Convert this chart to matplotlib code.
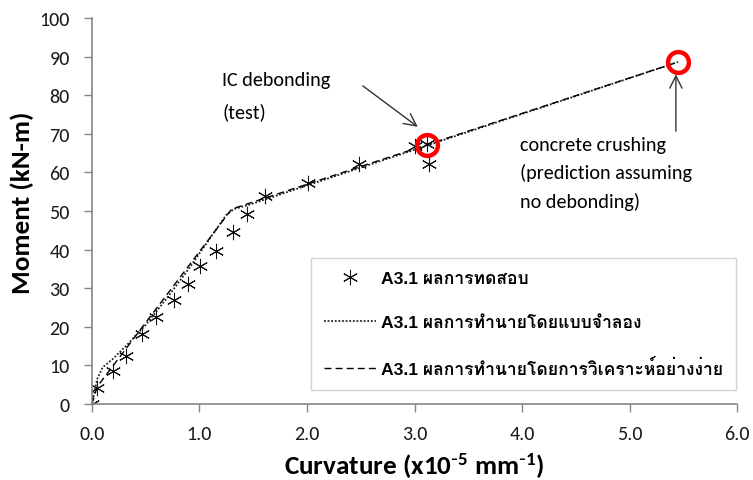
import matplotlib

matplotlib.use("Agg")
import matplotlib.pyplot as plt

plt.rcParams["font.family"] = ["Carlito", "Lato", "DejaVu Sans"]
plt.rcParams["mathtext.default"] = "regular"

# measured moment-curvature, beam A3.1
test_curv = [0.0, 0.05, 0.2, 0.32, 0.47, 0.6, 0.76, 0.89, 1.01, 1.15, 1.31,
             1.44, 1.61, 2.01, 2.48, 3.0, 3.12, 3.13]
test_mom = [0.0, 4.1, 8.5, 12.4, 18.1, 22.5, 26.9, 31.1, 35.7, 39.6, 44.5,
            49.2, 53.9, 57.3, 62.2, 66.8, 67.3, 62.3]

# numerical model prediction
model_curv = [0.0, 0.05, 0.1, 0.2, 0.35, 0.5, 0.7, 0.9, 1.1, 1.25, 1.32,
              1.45, 5.45]
model_mom = [0.0, 6.5, 9.5, 11.8, 16.0, 20.5, 27.5, 35.0, 43.0, 49.0, 50.5,
             51.5, 88.6]

# simplified analysis prediction
simple_curv = [0.0, 0.05, 1.3, 5.45]
simple_mom = [0.0, 4.5, 50.5, 88.6]

# failure points
ic_debond = (3.12, 67.2)
crushing = (5.45, 88.6)

labels = ["A3.1 ผลการทดสอบ",
          "A3.1 ผลการทำนายโดยแบบจำลอง",
          "A3.1 ผลการทำนายโดยการวิเคราะห์อย่างง่าย"]

fig = plt.figure(figsize=(7.53, 4.81), dpi=100)
ax = fig.add_axes([0.122, 0.158, 0.857, 0.8025])

ax.plot(test_curv, test_mom, linestyle="none", marker=(6, 2, 0),
        markersize=11, markeredgewidth=0.75, color="#111111", label=labels[0])
ax.plot(model_curv, model_mom, linestyle=(0, (1, 1)), linewidth=1.3,
        color="#222222", label=labels[1])
ax.plot(simple_curv, simple_mom, linestyle=(0, (5, 3)), linewidth=1.0,
        color="black", label=labels[2])

for pt in (ic_debond, crushing):
    ax.plot(*pt, marker="o", markersize=15, markerfacecolor="none",
            markeredgecolor="#ff0000", markeredgewidth=3.2, zorder=5)

arrow = dict(arrowstyle="->", color="#333333", lw=1.0, mutation_scale=22,
             shrinkA=0, shrinkB=0)
ax.annotate("", xy=(3.03, 71.8), xytext=(2.52, 82.4), arrowprops=arrow)
ax.text(1.21, 86.2, "IC debonding\n(test)", fontsize=14.5, va="top",
        ha="left", linespacing=1.9)
ax.annotate("", xy=(5.43, 85.4), xytext=(5.43, 70.7), arrowprops=arrow)
ax.text(3.98, 69.4, "concrete crushing\n(prediction assuming\nno debonding)",
        fontsize=14.5, va="top", ha="left", linespacing=1.68)

ax.set_xlim(0, 6)
ax.set_ylim(0, 100)
ax.set_xticks([0, 1, 2, 3, 4, 5, 6])
ax.set_xticklabels([f"{v:.1f}" for v in range(7)])
ax.set_yticks(range(0, 101, 10))
ax.tick_params(axis="both", direction="out", length=6, width=1,
               color="#868686", labelsize=14.5, labelcolor="#1a1a1a", pad=10)
ax.tick_params(axis="x", pad=9)
for side in ("top", "right"):
    ax.spines[side].set_visible(False)
for side in ("left", "bottom"):
    ax.spines[side].set_color("#868686")
    ax.spines[side].set_linewidth(1.2)

ax.set_xlabel(r"Curvature (x10$^{\text{-}5}$ mm$^{\text{-}1}$)", fontsize=19.5,
              fontweight="bold")
ax.xaxis.set_label_coords(0.5, -0.122)
ax.set_ylabel("Moment (kN-m)", fontsize=19.5, fontweight="bold")
ax.yaxis.set_label_coords(-0.09, 0.523)

leg = ax.legend(loc="lower left", bbox_to_anchor=(0.34, 0.037),
                prop={"family": ["Liberation Sans", "Loma"],
                      "size": 12.6, "weight": "bold"},
                frameon=True, fancybox=False, edgecolor="#c8c8c8",
                handlelength=3.0, handletextpad=0.28, labelspacing=1.62,
                borderpad=0.72, borderaxespad=0)
leg.get_frame().set_linewidth(1.0)

fig.savefig("out.png", dpi=100)
